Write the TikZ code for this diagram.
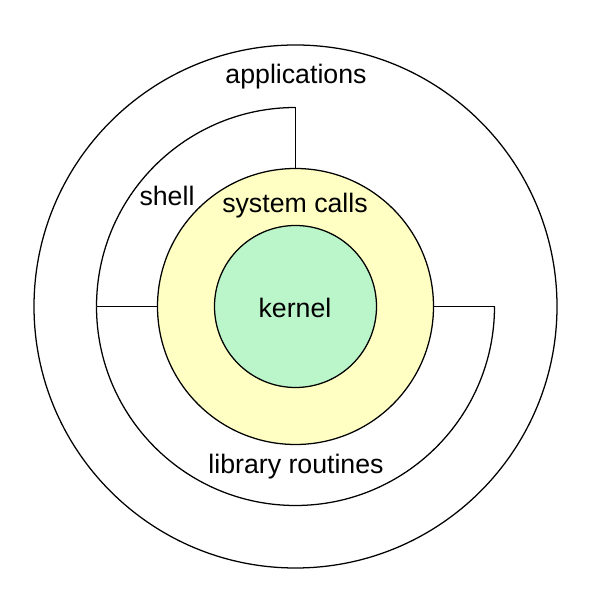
\documentclass[tikz,border=0pt]{standalone}
\usepackage{fontspec}
\setmainfont{Liberation Sans}
\definecolor{callyellow}{RGB}{255,255,196}
\definecolor{kernelgreen}{RGB}{187,245,202}
\tikzset{layer/.style={font=\fontsize{19}{23}\selectfont, inner sep=0pt}}
\begin{document}
\begin{tikzpicture}[x=0.025cm,y=0.025cm,line width=0.9pt]
   \useasboundingbox (0,0) rectangle (594,597);
   \draw (295.5,290.5) circle (261.5);
   \draw[fill=callyellow] (295.5,290.5) circle (138);
   \draw[fill=kernelgreen] (295.5,290.5) circle (81);

   \draw (295.5,489.5) arc (90:180:199);
   \draw (96.5,290.5) arc (180:360:199);

   \draw (295.5,489.5) -- (295.5,428.5);
   \draw (96.5,290.5) -- (157.5,290.5);
   \draw (433.5,290.5) -- (494.5,290.5);

   \node[layer] (apps) at (296,520) {applications};
   \node[layer] (shell) at (167,401) {shell};
   \node[layer] (calls) at (295,391) {system calls};
   \node[layer] (kernel) at (295,289) {kernel};
   \node[layer] (libs) at (296,130) {library routines};
 \end{tikzpicture}
\end{document}
